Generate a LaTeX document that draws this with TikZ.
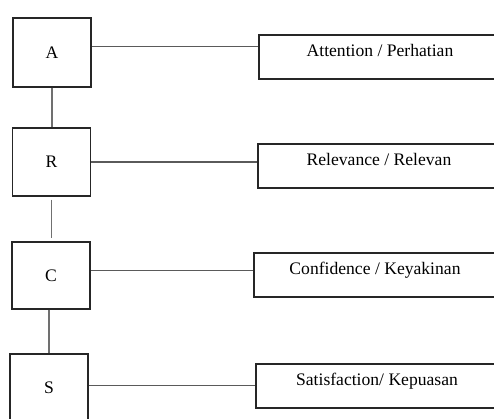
\documentclass[tikz,border=0pt]{standalone}
\usepackage{fontspec}
\setmainfont{Liberation Serif}
\usetikzlibrary{calc}
\definecolor{boxline}{HTML}{262626}
\definecolor{connline}{HTML}{5A5A5A}
\definecolor{vline}{HTML}{707070}
\tikzset{
  lbox/.style={draw=boxline, line width=1.1pt, minimum width=78pt, inner sep=0pt,
    font=\fontsize{17.6}{20}\selectfont},
  rbox/.style={draw=boxline, line width=1.1pt, minimum width=242pt, minimum height=44pt, inner sep=0pt},
  rtext/.style={font=\fontsize{17.6}{20}\selectfont, anchor=north, inner sep=0pt, yshift=-9.5pt},
  hconn/.style={draw=connline, line width=1.1pt},
  vconn/.style={draw=vline, line width=1.7pt},
}
\begin{document}
\begin{tikzpicture}[x=1pt,y=-1pt]
\useasboundingbox (0,0) rectangle (494,418);
\clip (0,0) rectangle (494,418);
% left boxes
\node[lbox, minimum height=69pt] (A) at (52,52.5) {A};
\node[lbox, minimum height=68pt] (R) at (51.5,162) {R};
\node[lbox, minimum height=67pt] (C) at (51,275.5) {C};
\node[lbox, minimum height=68pt] (S) at (49,388) {S};
% right boxes
\node[rbox] (att) at (380,57) {};
\node[rtext] at (att.north) {Attention / Perhatian};
\node[rbox] (rel) at (379,166) {};
\node[rtext] at (rel.north) {Relevance / Relevan};
\node[rbox] (con) at (375,275) {};
\node[rtext] at (con.north) {Confidence / Keyakinan};
\node[rbox] (sat) at (377,386) {};
\node[rtext] at (sat.north) {Satisfaction/ Kepuasan};
% horizontal connectors
\draw[hconn] ($(A.north east)!0.42!(A.south east)$) coordinate (a1) -- (a1 -| att.west);
\draw[hconn] (R.east) -- (R.east -| rel.west);
\draw[hconn] ($(C.north east)!0.43!(C.south east)$) coordinate (c1) -- (c1 -| con.west);
\draw[hconn] ($(S.north east)!0.47!(S.south east)$) coordinate (s1) -- (s1 -| sat.west);
% vertical connectors
\draw[vconn] (A.south) -- (A.south |- R.north);
\draw[vconn] ([yshift=-3pt]R.south) -- ([yshift=3pt]R.south |- C.north);
\draw[vconn] (S.north |- C.south) -- (S.north);
\end{tikzpicture}
\end{document}
